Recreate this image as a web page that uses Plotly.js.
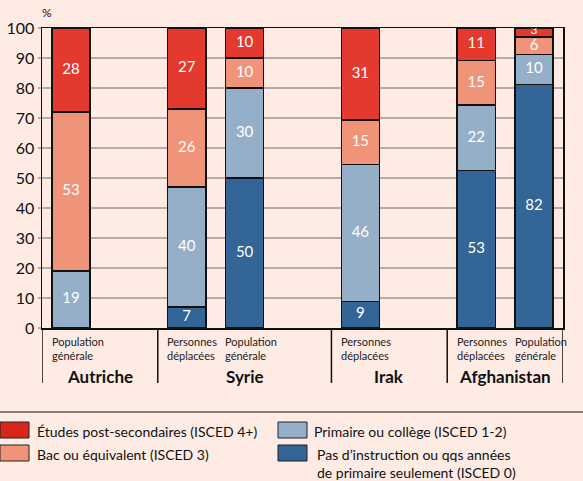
<!DOCTYPE html>
<html><head><meta charset="utf-8">
<script src="https://cdn.plot.ly/plotly-3.0.1.min.js"></script>
<style>html,body{margin:0;padding:0;background:#fdebe4;}</style>
</head><body>
<div id="chart" style="width:583px;height:481px;"></div>
<script>
// ---- data ----
const countries = ["Autriche", "Syrie", "Irak", "Afghanistan"];
const barCountry = ["Autriche", "Syrie", "Syrie", "Irak", "Afghanistan", "Afghanistan"];
const subLabels = ["Population<br>générale", "Personnes<br>déplacées", "Population<br>générale",
                   "Personnes<br>déplacées", "Personnes<br>déplacées", "Population<br>générale"];
const seriesNames = ["Pas d’instruction ou qqs années<br>de primaire seulement (ISCED 0)",
                     "Primaire ou collège (ISCED 1-2)",
                     "Bac ou équivalent (ISCED 3)",
                     "Études post-secondaires (ISCED 4+)"];
const isced0  = [null, 7, 50, 9, 53, 82];
const isced12 = [19, 40, 30, 46, 22, 10];
const isced3  = [53, 26, 10, 15, 15, 6];
const isced4  = [28, 27, 10, 31, 11, 3];

// ---- layout helpers ----
const series = [isced0, isced12, isced3, isced4];
const colors = ["#336596", "#96afc8", "#f09479", "#e4392e"];
const legendColors = ["#336596", "#96afc8", "#f09479", "#d8261a"];
// bar positions on numeric axis, leaving gaps between countries
const pos = [];
let p = 0;
barCountry.forEach((c, i) => {
  if (i > 0 && c !== barCountry[i - 1]) p += 1;
  pos.push(p); p += 1;
});
const barW = 0.66;
const BG = "#fdebe4";
// each bar is shown as shares of its own total (rounded labels may sum to 101)
const totals = pos.map((_, i) => series.reduce((s, v) => s + (v[i] || 0), 0));

const traces = [];
series.forEach((vals, k) => {
  traces.push({
    type: "bar", x: pos, y: vals.map((v, i) => v == null ? 0 : v / totals[i] * 100), width: barW,
    marker: {color: colors[k], line: {color: "#111", width: 1.5}},
    name: seriesNames[k], hoverinfo: "skip", showlegend: false
  });
});
// value labels at segment midpoints
const lx = [], ly = [], lt = [], ls = [];
pos.forEach((x, i) => {
  let base = 0;
  series.forEach(vals => {
    const v = vals[i];
    if (v != null && v > 0) {
      const h = v / totals[i] * 100;
      lx.push(x); ly.push(base + h / 2 + (h < 5 ? 0.4 : 0)); lt.push(String(v)); ls.push(h < 5 ? 12 : 15);
      base += h;
    }
  });
});
traces.push({type: "scatter", mode: "text", x: lx, y: ly, text: lt,
  textfont: {color: "#ffffff", size: ls, family: "Lato, sans-serif"},
  cliponaxis: false, hoverinfo: "skip", showlegend: false});

// pixel -> paper helpers (plot area 42..563 x 28..328)
const L = 42, R = 563, T = 28, B = 328;
const px = v => (v - L) / (R - L);
const py = v => (B - v) / (B - T);

const annotations = [], shapes = [];
// sub labels
pos.forEach((x, i) => annotations.push({
  x: x - barW / 2 - 0.04, xref: "x", y: py(333), yref: "paper", xanchor: "left", yanchor: "top",
  text: subLabels[i], showarrow: false, align: "left",
  font: {size: 11, color: "#222", family: "Lato, sans-serif"}
}));
// group separators and names
const starts = countries.map(c => Math.min(...pos.filter((_, i) => barCountry[i] === c)) - 0.5);
const bounds = starts.map((s, k) => [s, k < starts.length - 1 ? starts[k + 1] : p - 0.5]);
const sepX = new Set();
bounds.forEach(([a, b], k) => {
  sepX.add(a); sepX.add(b);
  annotations.push({x: (a + b) / 2, xref: "x", y: py(376), yref: "paper", xanchor: "center", yanchor: "middle",
    text: "<b>" + countries[k] + "</b>", showarrow: false,
    font: {size: 17, color: "#111", family: "Lato, sans-serif"}});
});
[...sepX].forEach(x => shapes.push({type: "line", xref: "x", yref: "paper", x0: x, x1: x,
  y0: 0, y1: py(383), line: {color: "#111", width: 1.5}}));
// % label
annotations.push({x: px(47), y: py(13), xref: "paper", yref: "paper", text: "%", showarrow: false,
  xanchor: "center", yanchor: "middle", font: {size: 12, color: "#111", family: "Lato, sans-serif"}});
// legend separator line
shapes.push({type: "line", xref: "paper", yref: "paper", x0: px(0), x1: px(583), y0: py(412), y1: py(412),
  line: {color: "#111", width: 1.2}});
// custom legend: order [ISCED4+, ISCED3] left column, [ISCED1-2, ISCED0] right column
const legendItems = [
  {k: 3, sx: 0, tx: 35, sy: 422, ty: 431},
  {k: 2, sx: 0, tx: 35, sy: 445, ty: 454},
  {k: 1, sx: 278, tx: 312, sy: 422, ty: 431},
  {k: 0, sx: 278, tx: 315, sy: 445, ty: 463}
];
legendItems.forEach(it => {
  shapes.push({type: "rect", xref: "paper", yref: "paper", x0: px(it.sx), x1: px(it.sx + 29),
    y0: py(it.sy), y1: py(it.sy + 16), fillcolor: legendColors[it.k], line: {color: "#222", width: 1}});
  annotations.push({x: px(it.tx), y: py(it.ty), xref: "paper", yref: "paper", xanchor: "left", yanchor: "middle",
    text: seriesNames[it.k], showarrow: false, align: "left",
    font: {size: 14, color: "#111", family: "Lato, sans-serif"}});
});

const layout = {
  width: 583, height: 481,
  margin: {l: L, r: 583 - R, t: T, b: 481 - B, pad: 0},
  paper_bgcolor: BG, plot_bgcolor: BG,
  barmode: "stack", showlegend: false,
  font: {family: "Lato, sans-serif", color: "#111"},
  xaxis: {range: [-0.5, p - 0.5], showticklabels: false, showgrid: false, zeroline: false,
    showline: true, linecolor: "#111", linewidth: 1.5, mirror: true, ticks: "", fixedrange: true},
  yaxis: {range: [0, 100], dtick: 10, tick0: 0, showgrid: true, gridcolor: "#b5aca8", gridwidth: 1.5,
    zeroline: false, showline: true, linecolor: "#111", linewidth: 1.5, mirror: true,
    ticks: "outside", ticklen: 3, tickcolor: "#b5aca8", tickwidth: 1.5,
    tickfont: {size: 16, color: "#111"}, fixedrange: true},
  annotations: annotations, shapes: shapes
};
Plotly.newPlot("chart", traces, layout, {displayModeBar: false, staticPlot: true});
</script>
</body></html>
